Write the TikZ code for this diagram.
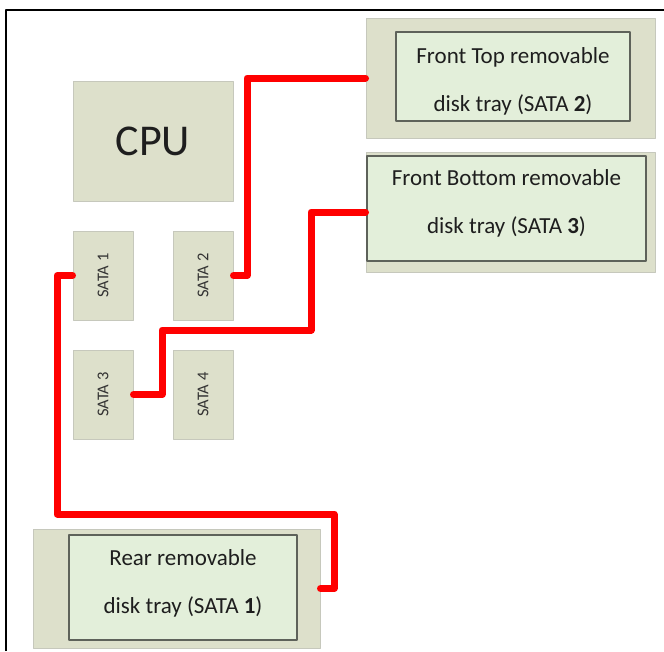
\documentclass[tikz,border=0pt]{standalone}
\usepackage{fontspec}
\setmainfont{Carlito}
\usepackage{tikz}
\usetikzlibrary{arrows.meta,positioning,calc}
\definecolor{chipfill}{HTML}{DDE0CB}
\definecolor{chipline}{HTML}{C6C8BC}
\definecolor{trayfill}{HTML}{E3EFDA}
\definecolor{trayline}{HTML}{5E625A}
\definecolor{textgrey}{HTML}{1E1E1E}

\begin{document}
\begin{tikzpicture}[x=1pt,y=-1pt,line join=round]
  \tikzstyle{chip}=[draw=chipline,line width=1pt,fill=chipfill,inner sep=0pt,text=textgrey]
  \tikzstyle{port}=[chip,minimum width=89pt,minimum height=60pt,font=\fontsize{16.5}{16.5}\selectfont,text=black!80,rotate=90]
  \tikzstyle{bay}=[draw=chipline,line width=1pt,fill=chipfill,inner sep=0pt]
  \tikzstyle{tray}=[draw=trayline,line width=1.3pt,fill=trayfill,inner sep=0pt]
  \tikzstyle{traytext}=[align=center,inner sep=0pt,text=textgrey,font=\fontsize{23}{48}\selectfont]
  \tikzstyle{cable}=[red,line width=7pt,line cap=round]
  \useasboundingbox (0,0) rectangle (664,651);
  \draw[line width=2pt] (6,651) |- (664,10);
  % board
  \node[chip,minimum width=160pt,minimum height=120pt,font=\fontsize{44}{44}\selectfont] (cpu) at (153,141) {CPU};
  \node[port] (sata1) at (103,275.5) {SATA 1};
  \node[port] (sata2) at (203,275.5) {SATA 2};
  \node[port] (sata3) at (103,394.5) {SATA 3};
  \node[port] (sata4) at (203,394.5) {SATA 4};
  % disk trays
  \node[bay,minimum width=289pt,minimum height=120pt] (topbay) at (510.5,78) {};
  \node[tray,minimum width=234pt,minimum height=89pt] (toptray) at (513,76.5) {};
  \node[traytext] (toptext) at (513,81) {Front Top removable\\disk tray (SATA \textbf{2})};
  \node[bay,minimum width=289pt,minimum height=120pt] (botbay) at (510.5,212) {};
  \node[tray,minimum width=279pt,minimum height=105pt] (bottray) at (506.5,208.5) {};
  \node[traytext] (bottext) at (506.5,203) {Front Bottom removable\\disk tray (SATA \textbf{3})};
  \node[bay,minimum width=287pt,minimum height=119pt] (rearbay) at (176.5,588.5) {};
  \node[tray,minimum width=228pt,minimum height=105pt] (reartray) at (183,587.5) {};
  \node[traytext] (reartext) at (183,583) {Rear removable\\disk tray (SATA \textbf{1})};
  % cables
  \draw[cable] (sata2.south) -- (247,275.5) |- (topbay.west);
  \draw[cable] (sata3.south) -- (162,394.5) -- (162,330) -- (311,330) |- (botbay.west);
  \draw[cable] (sata1.north) -- (57,275.5) -- (57,514) -- (334,514) |- (rearbay.east);
\end{tikzpicture}
\end{document}
